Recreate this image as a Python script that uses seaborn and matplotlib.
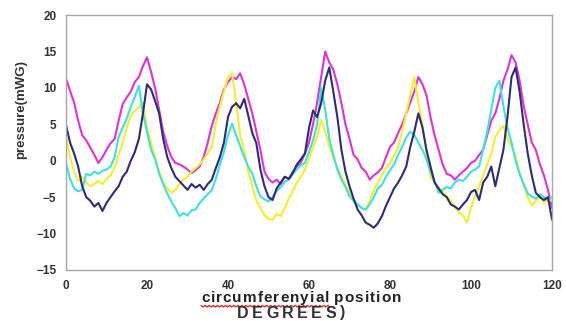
import numpy as np
import pandas as pd
import seaborn as sns
import matplotlib.pyplot as plt

# circumferential position, degrees (1 degree steps)
degrees = list(range(0, 121))

magenta = [11.3, 9.6, 8.0, 5.5, 3.5, 2.8, 1.8, 0.8, -0.3, 0.5,
           1.5, 2.4, 3.0, 5.5, 7.8, 8.7, 9.5, 10.8, 11.5, 13.0,
           14.2, 12.2, 10.0, 7.0, 4.0, 2.0, 0.5, -0.3, -0.5, -0.8,
           -1.2, -1.7, -1.3, -0.8, 0.5, 2.5, 4.8, 6.5, 8.0, 9.8,
           10.8, 11.5, 11.2, 12.0, 10.5, 8.5, 6.5, 4.0, 1.5, -1.5,
           -2.5, -3.0, -2.6, -3.2, -2.2, -2.5, -1.5, -0.8, -0.2, 1.0,
           2.5, 5.0, 8.0, 11.5, 15.0, 13.5, 12.5, 10.5, 7.9, 5.0,
           3.0, 0.8, 0.2, -1.0, -1.5, -2.6, -2.0, -1.6, -1.0, 0.5,
           1.9, 2.5, 3.8, 5.0, 6.5, 8.0, 9.5, 11.5, 10.5, 9.0,
           6.0, 3.5, 1.5, -0.5, -1.8, -2.0, -2.6, -2.0, -1.5, -1.0,
           -0.3, 0.0, 0.8, 1.5, 3.5, 5.5, 6.5, 8.5, 11.0, 12.5,
           14.5, 13.5, 11.0, 7.5, 5.0, 2.5, 1.5, -0.5, -2.0, -4.0,
           -6.5]

navy = [4.9, 2.5, 1.0, -0.8, -3.5, -5.0, -5.5, -6.3, -5.8, -6.9,
        -5.8, -5.0, -4.2, -3.5, -2.2, -1.5, 0.0, 1.2, 3.0, 6.5,
        10.5, 9.8, 8.2, 6.5, 3.0, 0.5, -1.0, -2.2, -2.8, -3.4,
        -4.0, -3.2, -3.7, -3.3, -4.0, -3.2, -2.6, -1.0, 0.5, 2.5,
        6.0, 7.4, 7.9, 7.2, 8.5, 6.2, 3.8, 2.4, -1.2, -3.5,
        -5.0, -5.4, -3.8, -3.0, -2.2, -2.5, -1.7, -0.5, 0.2, 1.0,
        4.5, 6.9, 6.0, 7.9, 11.0, 12.8, 9.5, 6.0, 1.5, -1.5,
        -3.5, -5.2, -6.7, -7.5, -8.5, -8.8, -9.2, -8.6, -7.6, -6.2,
        -5.0, -3.8, -3.0, -2.0, -0.8, 1.9, 4.0, 6.5, 4.6, 1.5,
        -0.8, -3.0, -3.8, -4.6, -5.0, -6.0, -6.3, -6.7, -6.0, -5.4,
        -4.3, -4.0, -5.4, -3.0, -2.2, -0.8, -3.5, -1.0, 1.5, 6.0,
        11.5, 12.8, 9.5, 5.0, 1.0, -2.0, -4.4, -5.0, -5.4, -5.0,
        -8.1]

cyan = [-0.3, -2.5, -3.8, -4.2, -4.0, -1.8, -2.0, -1.5, -1.8, -1.4,
        -1.2, -0.8, 0.5, 3.3, 4.5, 5.8, 7.4, 8.8, 10.3, 6.5,
        4.0, 1.5, 0.2, -1.8, -3.2, -4.5, -5.6, -6.5, -7.6, -7.2,
        -7.5, -6.8, -6.7, -5.8, -5.2, -4.6, -4.0, -2.5, -0.5, 1.2,
        3.5, 5.1, 3.5, 2.0, 0.5, -0.8, -1.8, -3.5, -4.9, -5.3,
        -5.6, -5.0, -4.2, -3.6, -2.9, -2.6, -1.8, -1.2, -0.6, -0.3,
        1.2, 2.8, 5.0, 10.0, 7.0, 3.0, 0.8, -1.2, -2.6, -3.6,
        -4.9, -5.5, -6.0, -6.5, -6.7, -6.0, -5.0, -3.8, -3.3, -2.2,
        -1.3, -0.5, 0.8, 1.9, 3.2, 4.0, 3.5, 2.5, 1.5, 0.2,
        -1.5, -2.8, -4.4, -4.0, -3.6, -3.8, -3.0, -2.6, -2.8, -2.2,
        -1.5, -1.2, -0.8, 1.5, 4.0, 7.0, 10.0, 11.0, 7.5, 4.5,
        2.5, 0.0, -1.8, -3.2, -4.5, -4.9, -5.2, -4.6, -5.0, -5.4,
        -5.0]

yellow = [3.3, 0.5, -1.5, -2.8, -2.2, -3.0, -3.5, -3.2, -2.8, -3.2,
          -2.5, -2.0, -1.0, 0.8, 2.5, 4.5, 6.2, 6.9, 7.3, 8.0,
          4.5, 2.5, 0.5, -1.5, -3.0, -3.8, -4.4, -4.0, -3.2, -2.6,
          -2.2, -1.5, -1.0, -0.5, 0.2, 1.0, 1.9, 5.1, 7.5, 9.5,
          11.5, 12.0, 8.0, 3.5, 1.5, -1.5, -3.5, -5.5, -6.5, -7.5,
          -8.0, -8.1, -7.3, -7.6, -6.5, -5.2, -4.2, -3.0, -2.2, -1.2,
          0.2, 1.8, 3.3, 5.6, 4.0, 2.0, 0.5, -1.0, -2.2, -3.2,
          -4.4, -5.4, -6.0, -6.5, -6.7, -5.5, -4.0, -3.0, -2.0, -1.0,
          -0.3, 0.8, 1.9, 4.0, 6.5, 9.0, 11.5, 8.0, 5.0, 1.0,
          -2.2, -3.0, -3.6, -4.2, -4.9, -5.5, -6.3, -7.1, -7.5, -8.5,
          -6.5, -4.9, -3.5, -2.0, -0.5, 1.0, 3.3, 4.2, 4.8, 3.0,
          2.0, 0.5, -1.5, -3.5, -5.0, -6.2, -5.5, -5.0, -5.8, -5.3,
          -5.5]

series_names = ['magenta', 'yellow', 'cyan', 'navy']
series_colors = ['#e030dc', '#f2f02a', '#3ee0e0', '#2c2c78']

W, H = 566, 321


def spaced_text(fig, s, left_px, right_px, y_px, **kw):
    """Draw `s` letter by letter so that it spans left_px..right_px."""
    r = fig.canvas.get_renderer()
    size = kw.get('fontsize', 10)
    widths = []
    for ch in s:
        if ch == ' ':
            widths.append(size * 0.28)
            continue
        t = fig.text(0, 0, ch, **kw)
        widths.append(t.get_window_extent(renderer=r).width)
        t.remove()
    gap = (right_px - left_px - sum(widths)) / (len(s) - 1)
    x = left_px
    for ch, w in zip(s, widths):
        if ch != ' ':
            fig.text(x / W, 1 - y_px / H, ch, ha='left', va='center', **kw)
        x += w + gap


df = pd.concat([
    pd.DataFrame({'deg': degrees, 'pressure': vals, 'run': name})
    for name, vals in zip(series_names, [magenta, yellow, cyan, navy])
])

sns.set_style('white')
plt.rcParams['font.family'] = ['Liberation Sans', 'DejaVu Sans']

fig = plt.figure(figsize=(W / 100, H / 100), dpi=100)
ax = fig.add_axes([0.1166, 0.159, 0.8587, 0.794])

sns.lineplot(data=df, x='deg', y='pressure', hue='run', hue_order=series_names,
             palette=dict(zip(series_names, series_colors)), sort=False,
             estimator=None, legend=False, linewidth=1.5, ax=ax)

ax.set_xlim(0, 120)
ax.set_ylim(-15, 20)
ax.set_xticks(range(0, 121, 20))
ax.set_yticks(range(-15, 21, 5))
ax.tick_params(axis='both', direction='out', length=3, width=0.8, color='#a0a0a0',
               labelsize=8.5, labelcolor='#333333', pad=4)
for lab in ax.get_xticklabels() + ax.get_yticklabels():
    lab.set_fontweight('bold')
for sp in ax.spines.values():
    sp.set_color('#a8a8a8')
    sp.set_linewidth(1.0)
ax.set_xlabel('')
ax.set_ylabel('')

fig.text(0.037, 0.66, 'pressure(mWG)', rotation=90, ha='center', va='center',
         fontsize=9.5, fontweight='bold', color='#333333')
spaced_text(fig, 'circumferenyial position', 201, 401, 298,
            fontsize=11, fontweight='bold', color='#222222')
spaced_text(fig, 'DEGREES)', 237, 345, 313,
            fontsize=11.5, fontweight='bold', color='#333333')

# spell-check squiggle under the misspelled word
sx = np.linspace(201 / W, 330 / W, 64)
sy = 1 - (305.5 + 1.4 * (np.arange(64) % 2)) / H
fig.add_artist(plt.Line2D(sx, sy, transform=fig.transFigure, color='#e02828', lw=1.0))

fig.savefig('out.png', dpi=100)
